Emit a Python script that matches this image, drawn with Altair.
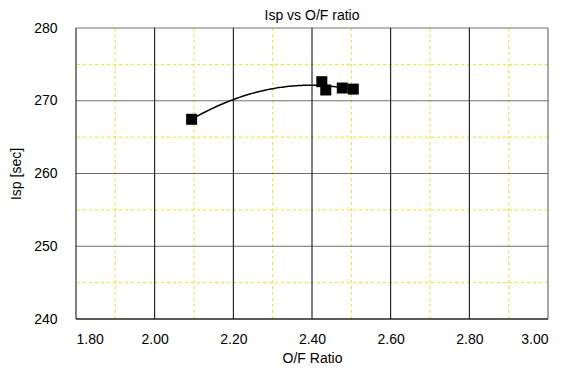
import altair as alt
import pandas as pd

of_ratio = [2.094, 2.425, 2.435, 2.477, 2.505]
isp = [267.45, 272.62, 271.48, 271.75, 271.6]

minor_x = [1.9, 2.1, 2.3, 2.5, 2.7, 2.9]
minor_y = [245, 255, 265, 275]
major_x = [1.8, 2.0, 2.2, 2.4, 2.6, 2.8]
edge_x = [3.0]
major_y = [240, 250, 260, 270, 280]

df = pd.DataFrame({"of": of_ratio, "isp": isp})

FONT = "Liberation Sans"

xs = alt.Scale(domain=[1.8, 3.0], nice=False)
ys = alt.Scale(domain=[240, 280], nice=False)

xaxis = alt.Axis(values=major_x + edge_x, format=".2f", grid=False, ticks=False, domain=False,
                 labelFont=FONT, labelFontSize=14, labelColor="black", labelPadding=13,
                 titleFont=FONT, titleFontSize=14, titleFontWeight="normal", titleColor="black",
                 titlePadding=5)
yaxis = alt.Axis(values=major_y, format="d", grid=False, ticks=False, domain=False,
                 labelFont=FONT, labelFontSize=14, labelColor="black", labelPadding=19,
                 titleFont=FONT, titleFontSize=14, titleFontWeight="normal", titleColor="black",
                 titlePadding=10)

XT = "O/F Ratio"
YT = "Isp  [sec]"

mx = alt.Chart(pd.DataFrame({"v": minor_x})).mark_rule(color="#f0e020", strokeDash=[3, 3], strokeWidth=1).encode(
    x=alt.X("v:Q", scale=xs, axis=xaxis, title=XT))
my = alt.Chart(pd.DataFrame({"v": minor_y})).mark_rule(color="#f0e020", strokeDash=[3, 3], strokeWidth=1).encode(
    y=alt.Y("v:Q", scale=ys, axis=yaxis, title=YT))
gy = alt.Chart(pd.DataFrame({"v": major_y})).mark_rule(color="#707070", strokeWidth=1).encode(
    y=alt.Y("v:Q", scale=ys, axis=yaxis, title=YT))
gx = alt.Chart(pd.DataFrame({"v": major_x})).mark_rule(color="black", strokeWidth=1).encode(
    x=alt.X("v:Q", scale=xs, axis=xaxis, title=XT))
ex = alt.Chart(pd.DataFrame({"v": edge_x})).mark_rule(color="#555555", strokeWidth=1).encode(
    x=alt.X("v:Q", scale=xs, axis=xaxis, title=XT))
bottom = alt.Chart(pd.DataFrame({"v": [major_y[0]]})).mark_rule(color="black", strokeWidth=1).encode(
    y=alt.Y("v:Q", scale=ys, axis=yaxis, title=YT))

base = alt.Chart(df)
fit = base.transform_regression("of", "isp", method="poly", order=2).mark_line(
    color="black", strokeWidth=1.5).encode(
    x=alt.X("of:Q", scale=xs, axis=xaxis, title=XT),
    y=alt.Y("isp:Q", scale=ys, axis=yaxis, title=YT))
pts = base.mark_point(shape="square", filled=True, color="black", size=121, opacity=1).encode(
    x=alt.X("of:Q", scale=xs, axis=xaxis, title=XT),
    y=alt.Y("isp:Q", scale=ys, axis=yaxis, title=YT))

chart = alt.layer(mx, my, gy, gx, ex, bottom, fit, pts).properties(
    width=472, height=291,
    title=alt.TitleParams("Isp vs O/F ratio", font=FONT, fontSize=14, fontWeight="normal",
                          color="black", offset=-2),
    autosize=alt.AutoSizeParams(type="none"),
    padding={"left": 76, "top": 28, "right": 26, "bottom": 51},
).configure(background="white").configure_view(strokeWidth=0)

chart.save("out.html", embed_options={"renderer": "svg", "actions": False})
